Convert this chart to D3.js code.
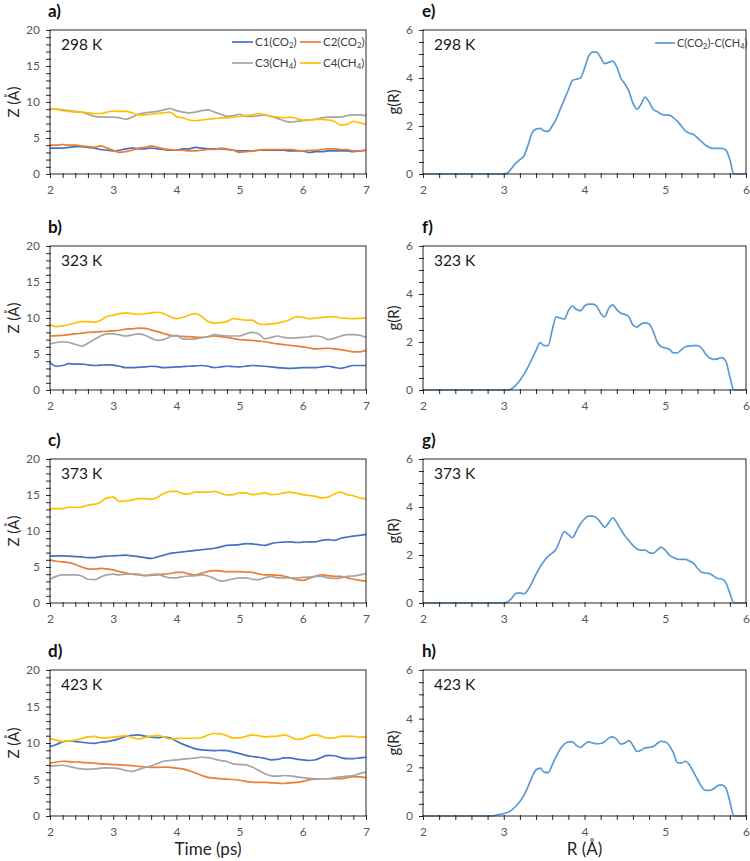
<!DOCTYPE html>
<html><head><meta charset="utf-8">
<script src="https://cdn.jsdelivr.net/npm/d3@7"></script>
<style>body{margin:0;background:#fff} svg{display:block} text{font-family:Lato,"Open Sans",sans-serif}</style>
</head><body><svg id="c" width="750" height="861"></svg>
<script>
// ---------- DATA ----------
const time = [2.0,2.1,2.2,2.3,2.4,2.5,2.6,2.7,2.8,2.9,3.0,3.1,3.2,3.3,3.4,3.5,3.6,3.7,3.8,3.9,4.0,4.1,4.2,4.3,4.4,4.5,4.6,4.7,4.8,4.9,5.0,5.1,5.2,5.3,5.4,5.5,5.6,5.7,5.8,5.9,6.0,6.1,6.2,6.3,6.4,6.5,6.6,6.7,6.8,6.9,7.0];
const seriesNames = ["C1(CO_2)","C2(CO_2)","C3(CH_4)","C4(CH_4)"];
const seriesColors = ["#4472C4","#ED7D31","#A5A5A5","#FFC000"];
const temps = ["298 K","323 K","373 K","423 K"];
const leftLetters = ["a)","b)","c)","d)"];
const rightLetters = ["e)","f)","g)","h)"];

// 298 K
const z298_C1 = [3.6,3.6,3.6,3.7,3.8,3.8,3.7,3.6,3.4,3.3, 3.2,3.3,3.5,3.6,3.5,3.5,3.6,3.5,3.4,3.3, 3.3,3.5,3.5,3.7,3.6,3.5,3.5,3.5,3.4,3.3, 3.2,3.2,3.2,3.3,3.3,3.3,3.3,3.3,3.2,3.2, 3.2,3.0,3.1,3.1,3.2,3.2,3.2,3.2,3.1,3.2,3.3];
const z298_C2 = [4.0,4.0,4.1,4.0,4.0,3.9,3.8,3.7,3.9,3.6, 3.3,3.0,3.1,3.3,3.6,3.7,3.9,3.7,3.5,3.4, 3.3,3.3,3.2,3.2,3.3,3.4,3.4,3.6,3.5,3.3, 3.0,3.1,3.2,3.3,3.4,3.4,3.4,3.4,3.4,3.3, 3.2,3.3,3.3,3.4,3.5,3.5,3.4,3.4,3.2,3.2,3.3];
const z298_C3 = [9.1,9.0,8.9,8.8,8.7,8.6,8.3,8.0,7.9,7.9, 7.9,7.8,7.6,7.9,8.3,8.5,8.6,8.7,8.9,9.1, 8.8,8.6,8.5,8.6,8.8,8.9,8.6,8.3,8.0,8.1, 8.3,8.0,8.0,8.1,8.2,8.0,7.7,7.4,7.2,7.3, 7.4,7.5,7.6,7.8,7.9,7.9,7.9,8.1,8.2,8.2,8.1];
const z298_C4 = [9.1,9.0,8.8,8.7,8.6,8.6,8.5,8.4,8.4,8.6, 8.75,8.7,8.7,8.5,8.2,8.2,8.3,8.4,8.5,8.6, 8.0,7.8,7.5,7.4,7.5,7.6,7.7,7.8,7.8,7.9, 8.0,8.1,8.2,8.4,8.2,8.0,7.9,7.8,7.9,7.7, 7.5,7.5,7.6,7.6,7.5,7.3,6.8,6.9,7.3,7.1,6.9];
// 323 K
const z323_C1 = [3.8,3.3,3.4,3.65,3.6,3.6,3.5,3.4,3.45,3.5, 3.45,3.3,3.1,3.1,3.15,3.2,3.3,3.25,3.1,3.15, 3.2,3.25,3.3,3.35,3.4,3.3,3.1,3.2,3.3,3.25, 3.2,3.3,3.4,3.35,3.3,3.2,3.1,3.05,3.0,3.05, 3.1,3.1,3.1,3.2,3.3,3.15,3.0,3.2,3.4,3.4,3.4];
const z323_C2 = [7.5,7.55,7.6,7.7,7.8,7.9,8.0,8.05,8.1,8.15, 8.2,8.3,8.45,8.5,8.6,8.55,8.35,8.1,7.85,7.6, 7.5,7.45,7.4,7.35,7.3,7.4,7.5,7.4,7.3,7.15, 7.0,6.95,6.9,6.8,6.7,6.55,6.4,6.3,6.2,6.1, 6.0,5.85,5.7,5.75,5.8,5.7,5.6,5.45,5.3,5.3,5.5];
const z323_C3 = [6.4,6.6,6.7,6.6,6.35,6.1,6.5,7.0,7.5,7.8, 7.8,7.65,7.5,7.65,7.8,7.6,7.2,6.9,7.0,7.4, 7.6,7.1,7.05,7.1,7.25,7.4,7.7,7.6,7.5,7.5, 7.5,7.8,8.0,7.8,7.1,7.3,7.5,7.3,7.2,7.25, 7.3,7.4,7.5,7.4,7.0,7.2,7.5,7.7,7.7,7.6,7.3];
const z323_C4 = [9.1,8.8,8.9,9.1,9.3,9.5,9.5,9.4,9.7,10.2, 10.4,10.6,10.7,10.6,10.5,10.6,10.7,10.8,10.6,10.2, 9.9,10.1,10.4,10.6,10.2,9.5,9.3,9.35,9.5,9.9, 9.8,9.7,9.7,9.2,9.1,9.2,9.3,9.5,9.8,10.2, 10.1,9.9,10.0,10.1,10.15,10.2,10.0,9.95,9.9,9.95,10.0];
// 373 K
const z373_C1 = [6.5,6.55,6.55,6.5,6.45,6.4,6.3,6.3,6.45,6.5, 6.55,6.6,6.65,6.55,6.45,6.3,6.2,6.4,6.65,6.9, 7.0,7.1,7.2,7.3,7.4,7.5,7.6,7.8,8.0,8.05, 8.1,8.25,8.2,8.1,8.0,8.25,8.4,8.45,8.5,8.4, 8.45,8.5,8.5,8.7,8.8,8.7,9.0,9.15,9.3,9.4,9.5];
const z373_C2 = [6.0,5.8,5.7,5.6,5.35,5.0,4.75,4.7,4.8,4.75, 4.6,4.35,4.15,4.0,3.9,3.85,3.85,3.9,4.0,4.1, 4.25,4.25,4.05,3.9,4.15,4.4,4.5,4.45,4.35,4.35, 4.35,4.3,4.25,4.05,3.9,3.9,3.85,3.75,3.5,3.25, 3.15,3.4,3.7,3.9,3.8,3.7,3.7,3.5,3.3,3.15,3.05];
const z373_C3 = [3.3,3.7,3.9,3.9,3.9,3.75,3.3,3.25,3.6,3.9, 4.0,3.9,4.0,4.05,4.0,3.75,3.95,4.0,3.7,3.5, 3.5,3.65,3.75,3.8,3.9,3.75,3.4,3.05,3.15,3.35, 3.5,3.5,3.3,3.25,3.5,3.7,3.5,3.5,3.5,3.5, 3.55,3.6,3.7,3.7,3.5,3.4,3.5,3.7,3.75,3.9,4.05];
const z373_C4 = [13.1,13.1,13.1,13.3,13.3,13.3,13.6,13.7,14.0,14.6, 14.7,14.1,14.2,14.3,14.5,14.5,14.4,14.7,15.2,15.5, 15.5,15.2,15.15,15.4,15.4,15.4,15.5,15.25,15.0,15.05, 15.3,15.3,15.05,15.15,15.3,15.05,15.1,15.3,15.4,15.25, 15.05,14.95,14.8,14.6,14.7,15.15,15.4,15.05,14.9,14.6,14.45];
// 423 K
const z423_C1 = [9.5,9.8,10.15,10.3,10.2,10.1,10.0,9.95,10.1,10.2, 10.35,10.6,10.9,11.05,11.1,10.95,10.8,10.75,10.8,10.7, 10.25,9.85,9.5,9.2,9.05,9.0,8.95,9.0,8.95,8.75, 8.55,8.3,8.15,8.05,7.9,7.7,7.75,7.95,7.95,7.8, 7.7,7.6,7.7,8.05,8.3,8.25,8.0,7.85,7.85,7.95,8.05];
const z423_C2 = [7.25,7.4,7.5,7.45,7.4,7.35,7.3,7.25,7.15,7.1, 7.05,7.0,6.95,6.9,6.8,6.75,6.65,6.65,6.7,6.65, 6.55,6.45,6.2,5.9,5.55,5.3,5.2,5.1,5.05,5.0, 4.9,4.75,4.65,4.6,4.6,4.55,4.5,4.45,4.55,4.6, 4.75,4.95,5.05,5.1,5.1,5.1,5.1,5.25,5.4,5.35,5.25];
const z423_C3 = [6.8,6.9,6.95,6.8,6.6,6.45,6.4,6.45,6.55,6.6, 6.55,6.45,6.25,6.1,6.35,6.65,6.85,7.2,7.5,7.6, 7.7,7.8,7.85,7.95,8.05,8.0,7.8,7.6,7.45,7.15, 7.05,7.0,6.7,6.25,5.8,5.5,5.45,5.55,5.5,5.35, 5.25,5.15,5.1,5.1,5.1,5.25,5.35,5.45,5.55,5.8,6.0];
const z423_C4 = [10.6,10.4,10.2,10.3,10.4,10.6,10.85,10.9,10.7,10.7, 10.8,10.9,11.0,10.75,10.55,10.75,10.95,11.05,10.8,10.55, 10.6,10.65,10.65,10.65,10.75,11.1,11.3,11.25,11.0,10.7, 10.7,10.9,11.1,11.0,10.85,10.9,10.95,11.1,10.85,10.5, 10.6,10.95,11.1,10.9,10.65,10.7,10.9,10.95,10.9,10.8,10.85];

// RDF
const rGrid = [2.0,2.85,2.9,2.95,3.0,3.05,3.1,3.15,3.2,3.25,3.3,3.35,3.4,3.45,3.5,3.55,3.6,3.65,3.7,3.75,3.8,3.85,3.9,3.95,4.0,4.05,4.1,4.15,4.2,4.25,4.3,4.35,4.4,4.45,4.5,4.55,4.6,4.65,4.7,4.75,4.8,4.85,4.9,4.95,5.0,5.05,5.1,5.15,5.2,5.25,5.3,5.35,5.4,5.45,5.5,5.55,5.6,5.65,5.7,5.75,5.8,5.85,6.0];
const g298 = [0,0,0,0,0, 0.05,0.25,0.45,0.6,0.75,1.2,1.7,1.87,1.9,1.8,1.78,2.0,2.3,2.7,3.1,3.5,3.9,3.95,4.0,4.4,4.9,5.08,5.08,4.85,4.6,4.65,4.7,4.45,4.0,3.75,3.45,2.95,2.7,2.9,3.2,3.0,2.7,2.6,2.5,2.45,2.45,2.35,2.2,2.0,1.8,1.7,1.65,1.5,1.35,1.2,1.1,1.07,1.07,1.07,1.0,0.6,0,0];
const g323 = [0,0,0,0,0, 0,0.05,0.2,0.4,0.65,0.95,1.3,1.65,1.97,1.85,1.85,2.5,3.05,3.0,2.95,3.3,3.5,3.35,3.3,3.5,3.58,3.58,3.5,3.2,3.05,3.4,3.55,3.35,3.2,3.15,3.05,2.7,2.62,2.75,2.8,2.75,2.45,2.0,1.8,1.75,1.7,1.55,1.55,1.68,1.8,1.83,1.85,1.85,1.75,1.5,1.33,1.28,1.3,1.35,1.2,0.55,0,0];
const g373 = [0,0,0,0,0, 0.05,0.2,0.4,0.42,0.38,0.55,0.85,1.2,1.5,1.75,1.95,2.08,2.25,2.65,2.98,2.85,2.72,3.0,3.3,3.5,3.62,3.62,3.55,3.35,3.15,3.35,3.55,3.35,3.05,2.8,2.6,2.4,2.25,2.2,2.2,2.1,2.07,2.2,2.33,2.2,2.0,1.9,1.83,1.82,1.82,1.75,1.65,1.45,1.28,1.25,1.22,1.12,1.02,1.0,0.85,0.4,0,0];
const g423 = [0,0,0.03,0.07,0.1, 0.15,0.25,0.4,0.6,0.85,1.2,1.6,1.9,1.97,1.8,1.78,2.1,2.45,2.75,2.95,3.05,3.05,2.9,2.82,2.95,3.05,3.0,2.97,2.98,3.05,3.2,3.25,3.15,2.95,3.0,3.1,2.9,2.65,2.7,2.8,2.82,2.85,2.98,3.07,3.05,2.9,2.6,2.2,2.18,2.25,2.1,1.8,1.5,1.2,1.05,1.05,1.12,1.25,1.28,1.15,0.6,0,0];
const rdfName = "C(CO_2)-C(CH_4)";
const rdfColor = "#5B9BD5";

const zTicks = [0,5,10,15,20];
const timeTicks = [2,3,4,5,6,7];
const gTicks = [0,2,4,6];
const rTicks = [2,3,4,5,6];

const leftData = [
  [z298_C1,z298_C2,z298_C3,z298_C4],
  [z323_C1,z323_C2,z323_C3,z323_C4],
  [z373_C1,z373_C2,z373_C3,z373_C4],
  [z423_C1,z423_C2,z423_C3,z423_C4]
];
const rightData = [g298,g323,g373,g423];

// ---------- LAYOUT ----------
const svg = d3.select("#c");
const rows = [[30,174],[246,390],[459,603],[670,816]];
const L = {x0:50, x1:366};
const R = {x0:423, x1:746};
const tickColor = "#595959", frameColor = "#262626";
const fmt = d3.format("d");

function subText(sel, s, size){
  // "_d" => subscript digit
  const parts = s.split(/(_\d)/).filter(p=>p.length);
  let pendingUp = 0;
  parts.forEach(p=>{
    if (p[0]==="_") {
      sel.append("tspan").attr("font-size", size*0.68).attr("dy", size*0.2).text(p.slice(1));
      pendingUp = -size*0.2;
    } else {
      const t = sel.append("tspan").attr("font-size", size).text(p);
      if (pendingUp) { t.attr("dy", pendingUp); pendingUp = 0; }
    }
  });
}

function panel(g, xs, ys, xMinor, yMinor, xMaj, yMaj){
  const h = ys.range()[0];
  const ax = d3.axisBottom(xs).tickValues(xMinor).tickSize(4).tickFormat("");
  const gx = g.append("g").attr("transform",`translate(0,${h})`).call(ax);
  gx.select(".domain").remove();
  gx.selectAll("line").attr("stroke",frameColor).attr("y1",-1);
  const axL = d3.axisBottom(xs).tickValues(xMaj).tickSize(0).tickPadding(11).tickFormat(fmt);
  const gxl = g.append("g").attr("transform",`translate(0,${h})`).call(axL);
  gxl.select(".domain").remove();
  gxl.selectAll("text").attr("fill",tickColor).attr("font-size",12).attr("font-family","Lato, 'Open Sans', sans-serif");
  const ay = d3.axisLeft(ys).tickValues(yMinor).tickSize(4).tickFormat("");
  const gy = g.append("g").call(ay);
  gy.select(".domain").remove();
  gy.selectAll("line").attr("stroke",frameColor).attr("x1",1);
  const ayl = d3.axisLeft(ys).tickValues(yMaj).tickSize(0).tickPadding(10).tickFormat(fmt);
  const gyl = g.append("g").call(ayl);
  gyl.select(".domain").remove();
  gyl.selectAll("text").attr("fill",tickColor).attr("font-size",12).attr("font-family","Lato, 'Open Sans', sans-serif");
}

rows.forEach((rw, i) => {
  const [top, bot] = rw;
  const hgt = bot - top;
  // ----- left panel -----
  {
    const w = L.x1 - L.x0;
    const g = svg.append("g").attr("transform",`translate(${L.x0},${top})`);
    const x = d3.scaleLinear().domain([2,7]).range([0,w]);
    const y = d3.scaleLinear().domain([0,20]).range([hgt,0]);
    const minorX = d3.range(0,26).map(k=>2+k*0.2);
    const minorY = d3.range(0,21);
    const line = d3.line().x((d,k)=>x(time[k])).y(d=>y(d)).curve(d3.curveMonotoneX);
    leftData[i].forEach((s, j) => {
      g.append("path").datum(s).attr("d", line).attr("fill","none")
        .attr("stroke", seriesColors[j]).attr("stroke-width",1.7).attr("stroke-linejoin","round");
    });
    g.append("rect").attr("width",w).attr("height",hgt).attr("fill","none").attr("stroke",frameColor).attr("stroke-width",1);
    panel(g, x, y, minorX, minorY, timeTicks, zTicks);
    g.append("text").attr("x",11).attr("y",20).attr("font-size",15.5).attr("fill","#1a1a1a").text(temps[i]);
    svg.append("text").attr("x",L.x0-2).attr("y",top-13).attr("font-size",17).attr("font-weight","bold").attr("fill","#111").text(leftLetters[i]);
    svg.append("text").attr("transform",`translate(19,${top+hgt/2}) rotate(-90)`).attr("text-anchor","middle")
      .attr("font-size",15).attr("fill","#262626").text("Z (Å)");
    if (i===0){
      const lg = g.append("g");
      const pos = [[182,12],[250,12],[182,33],[250,33]];
      seriesNames.forEach((n,j)=>{
        const [lx,ly] = pos[j];
        lg.append("line").attr("x1",lx).attr("x2",lx+21).attr("y1",ly).attr("y2",ly).attr("stroke",seriesColors[j]).attr("stroke-width",1.7);
        const t = lg.append("text").attr("x",lx+23).attr("y",ly+4).attr("fill","#404040");
        subText(t, n, 11.5);
      });
    }
  }
  // ----- right panel -----
  {
    const w = R.x1 - R.x0;
    const g = svg.append("g").attr("transform",`translate(${R.x0},${top})`);
    const x = d3.scaleLinear().domain([2,6]).range([0,w]);
    const y = d3.scaleLinear().domain([0,6]).range([hgt,0]);
    const minorX = d3.range(0,21).map(k=>2+k*0.2);
    const minorY = d3.range(0,13).map(k=>k*0.5);
    const line = d3.line().x((d,k)=>x(rGrid[k])).y(d=>y(d)).curve(d3.curveMonotoneX);
    g.append("path").datum(rightData[i]).attr("d", line).attr("fill","none")
      .attr("stroke", rdfColor).attr("stroke-width",1.7).attr("stroke-linejoin","round");
    g.append("rect").attr("width",w).attr("height",hgt).attr("fill","none").attr("stroke",frameColor).attr("stroke-width",1);
    panel(g, x, y, minorX, minorY, rTicks, gTicks);
    g.append("text").attr("x",11).attr("y",20).attr("font-size",15.5).attr("fill","#1a1a1a").text(temps[i]);
    svg.append("text").attr("x",R.x0-1).attr("y",top-13).attr("font-size",17).attr("font-weight","bold").attr("fill","#111").text(rightLetters[i]);
    svg.append("text").attr("transform",`translate(${R.x0-24},${top+hgt/2}) rotate(-90)`).attr("text-anchor","middle")
      .attr("font-size",15).attr("fill","#262626").text("g(R)");
    if (i===0){
      g.append("line").attr("x1",232).attr("x2",252).attr("y1",13).attr("y2",13).attr("stroke",rdfColor).attr("stroke-width",1.7);
      const t = g.append("text").attr("x",254).attr("y",17).attr("fill","#404040");
      subText(t, rdfName, 11);
    }
  }
});

svg.append("text").attr("x",(L.x0+L.x1)/2).attr("y",855).attr("text-anchor","middle").attr("font-size",17).attr("fill","#262626").text("Time (ps)");
svg.append("text").attr("x",(R.x0+R.x1)/2).attr("y",855).attr("text-anchor","middle").attr("font-size",17).attr("fill","#262626").text("R (Å)");
</script></body></html>
